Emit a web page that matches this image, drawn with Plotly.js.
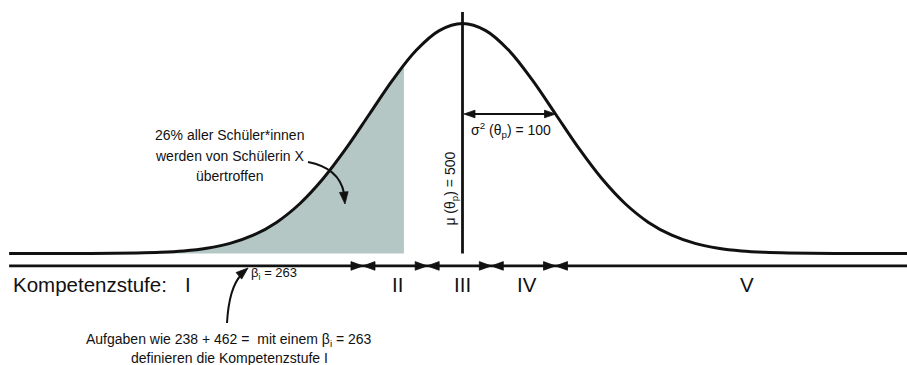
<!DOCTYPE html>
<html><head><meta charset="utf-8">
<script src="https://cdn.plot.ly/plotly-3.0.1.min.js"></script>
<style>html,body{margin:0;padding:0;background:#fff}#chart{width:907px;height:365px}</style>
</head><body><div id="chart"></div>
<script>
// Fähigkeitsskala θ und relative Dichte (Maximum = 1)
const theta = [12.5,25,50,75,100,125,150,175,200,225,250,275,300,325,350,375,400,425,450,475,500,525,550,575,600,625,650,675,700,725,750,775,800,825,850,875,900,925,950,975,1000];
const density = [0,0,0,0.0001,0.0003,0.0009,0.0022,0.0051,0.0111,0.0228,0.0439,0.0796,0.1353,0.2163,0.3247,0.4578,0.6065,0.7548,0.8825,0.9692,1,0.9692,0.8825,0.7548,0.6065,0.4578,0.3247,0.2163,0.1353,0.0796,0.0439,0.0228,0.0111,0.0051,0.0022,0.0009,0.0003,0.0001,0,0,0];
const shadeEnd = 437;          // Position von Schülerin X
const shadeEndDensity = 0.82;
const mu = 500;
const sigma = 100;
const sigmaDensity = 0.6065;
const levelBounds = [393, 462, 531, 600];
const levelLabels = ['I','II','III','IV','V'];
const levelLabelTheta = [205, 430, 500, 569, 806];
const topLabelY = 1.05;
const axisY = -0.054;

const W = 907, H = 365;
const xr = [2.69, 977.96];
const yr = [-0.4848, 1.1022];
const kx = W / (xr[1] - xr[0]);
const ky = H / (yr[1] - yr[0]);
const FONT = 'Liberation Sans, Arial, Helvetica, sans-serif';

const shadeX = [], shadeY = [];
theta.forEach((t, i) => { if (t < shadeEnd) { shadeX.push(t); shadeY.push(density[i]); } });
shadeX.push(shadeEnd); shadeY.push(shadeEndDensity);

// triangle (arrowhead) in data coordinates; direction in screen pixels
function tri(tx, ty, dx, dy, L, hw) {
  const n = Math.hypot(dx, dy); dx /= n; dy /= n;
  const bx = -dx * L, by = -dy * L, px = -dy, py = dx;
  const pts = [[0,0],[bx+px*hw, by+py*hw],[bx-px*hw, by-py*hw]];
  return 'M' + pts.map(p => (tx + p[0]/kx) + ',' + (ty - p[1]/ky)).join(' L') + ' Z';
}
// triangle in paper coordinates from pixel position
function triP(x, y, dx, dy, L, hw) {
  const n = Math.hypot(dx, dy); dx /= n; dy /= n;
  const bx = -dx * L, by = -dy * L, px = -dy, py = dx;
  const pts = [[x,y],[x+bx+px*hw, y+by+py*hw],[x+bx-px*hw, y+by-py*hw]];
  return 'M' + pts.map(p => (p[0]/W) + ',' + (1 - p[1]/H)).join(' L') + ' Z';
}
function pp(x, y) { return (x/W) + ',' + (1 - y/H); }
const head = (path, ref) => ({type:'path', xref:ref, yref:ref, path:path, fillcolor:'#111', line:{color:'#111', width:0.8}, layer:'above'});

const shapes = [];
// mean line
shapes.push({type:'line', xref:'x', yref:'y', x0:mu, x1:mu, y0:0, y1:topLabelY, line:{color:'#111', width:2.8}});
// Kompetenzstufen axis
shapes.push({type:'line', xref:'x', yref:'y', x0:theta[0], x1:theta[theta.length-1], y0:axisY, y1:axisY, line:{color:'#111', width:2.8}});
levelBounds.forEach(b => {
  shapes.push(head(tri(b, axisY, 1, 0, 12, 4.3), 'x'));
  shapes.push(head(tri(b, axisY, -1, 0, 12, 4.3), 'x'));
});
// sigma arrow
shapes.push({type:'line', xref:'x', yref:'y', x0:mu + 8/kx, x1:mu + sigma - 8/kx, y0:sigmaDensity, y1:sigmaDensity, line:{color:'#111', width:2.2}});
shapes.push(head(tri(mu + 1.5/kx, sigmaDensity, -1, 0, 11, 3.8), 'x'));
shapes.push(head(tri(mu + sigma, sigmaDensity, 1, 0, 11, 3.8), 'x'));
// curved arrow: text -> shaded area
shapes.push({type:'path', xref:'paper', yref:'paper', path:'M' + pp(308,162) + ' Q' + pp(339,168) + ' ' + pp(344,193), line:{color:'#111', width:2}});
shapes.push(head(triP(345, 204, 0.1, 1, 12, 4.3), 'paper'));
// curved arrow: bottom text -> beta
shapes.push({type:'path', xref:'paper', yref:'paper', path:'M' + pp(227,323) + ' Q' + pp(229,288) + ' ' + pp(241,275), line:{color:'#111', width:2}});
shapes.push(head(triP(248, 268, 0.76, -0.65, 12, 4.3), 'paper'));

const f = (s) => ({family: FONT, size: s, color: '#111'});
const ann = [];
const addPx = (text, x, y, size, extra) => ann.push(Object.assign({text, xref:'paper', yref:'paper', x:x/W, y:1-y/H, showarrow:false, font:f(size), xanchor:'center', yanchor:'middle'}, extra||{}));

addPx('26% aller Schüler*innen', 230, 135, 14);
addPx('werden von Schülerin X', 230, 156, 14);
addPx('übertroffen', 229, 176, 14);
addPx('Kompetenzstufe:', 11, 284, 20.5, {xanchor:'left'});
levelLabels.forEach((l, i) => ann.push({text:l, xref:'x', yref:'paper', x:levelLabelTheta[i], y:1-284/H, showarrow:false, font:f(20.5), xanchor:'center', yanchor:'middle'}));
addPx('β<sub>i</sub> = 263', 249, 273, 13, {xanchor:'left'});
addPx('Aufgaben wie 238 + 462 =  mit einem β<sub>i</sub> = 263', 229, 340, 14);
addPx('definieren die Kompetenzstufe I', 229, 358, 14);
ann.push({text:'σ<sup>2</sup> (θ<sub>p</sub>) = 100', xref:'x', yref:'y', x:mu + sigma/2, y:sigmaDensity, yshift:-16, xshift:2, showarrow:false, font:f(14), xanchor:'center', yanchor:'middle'});
ann.push({text:'μ (θ<sub>p</sub>) = 500', xref:'x', yref:'y', x:mu, y:0.28, xshift:-11, textangle:-90, showarrow:false, font:f(14), xanchor:'center', yanchor:'middle'});

const traces = [
  {x: shadeX, y: shadeY, type:'scatter', mode:'lines', fill:'tozeroy', fillcolor:'#b4c7c4', line:{width:0, shape:'spline', color:'rgba(0,0,0,0)'}, hoverinfo:'skip'},
  {x: theta, y: density, type:'scatter', mode:'lines', line:{color:'#111', width:3, shape:'spline'}, hoverinfo:'skip'}
];
const layout = {
  width: W, height: H, margin:{l:0, r:0, t:0, b:0},
  paper_bgcolor:'#fff', plot_bgcolor:'#fff', showlegend:false,
  xaxis:{range:xr, visible:false, fixedrange:true},
  yaxis:{range:yr, visible:false, fixedrange:true},
  shapes: shapes, annotations: ann
};
Plotly.newPlot('chart', traces, layout, {staticPlot:true, displayModeBar:false});
</script></body></html>
